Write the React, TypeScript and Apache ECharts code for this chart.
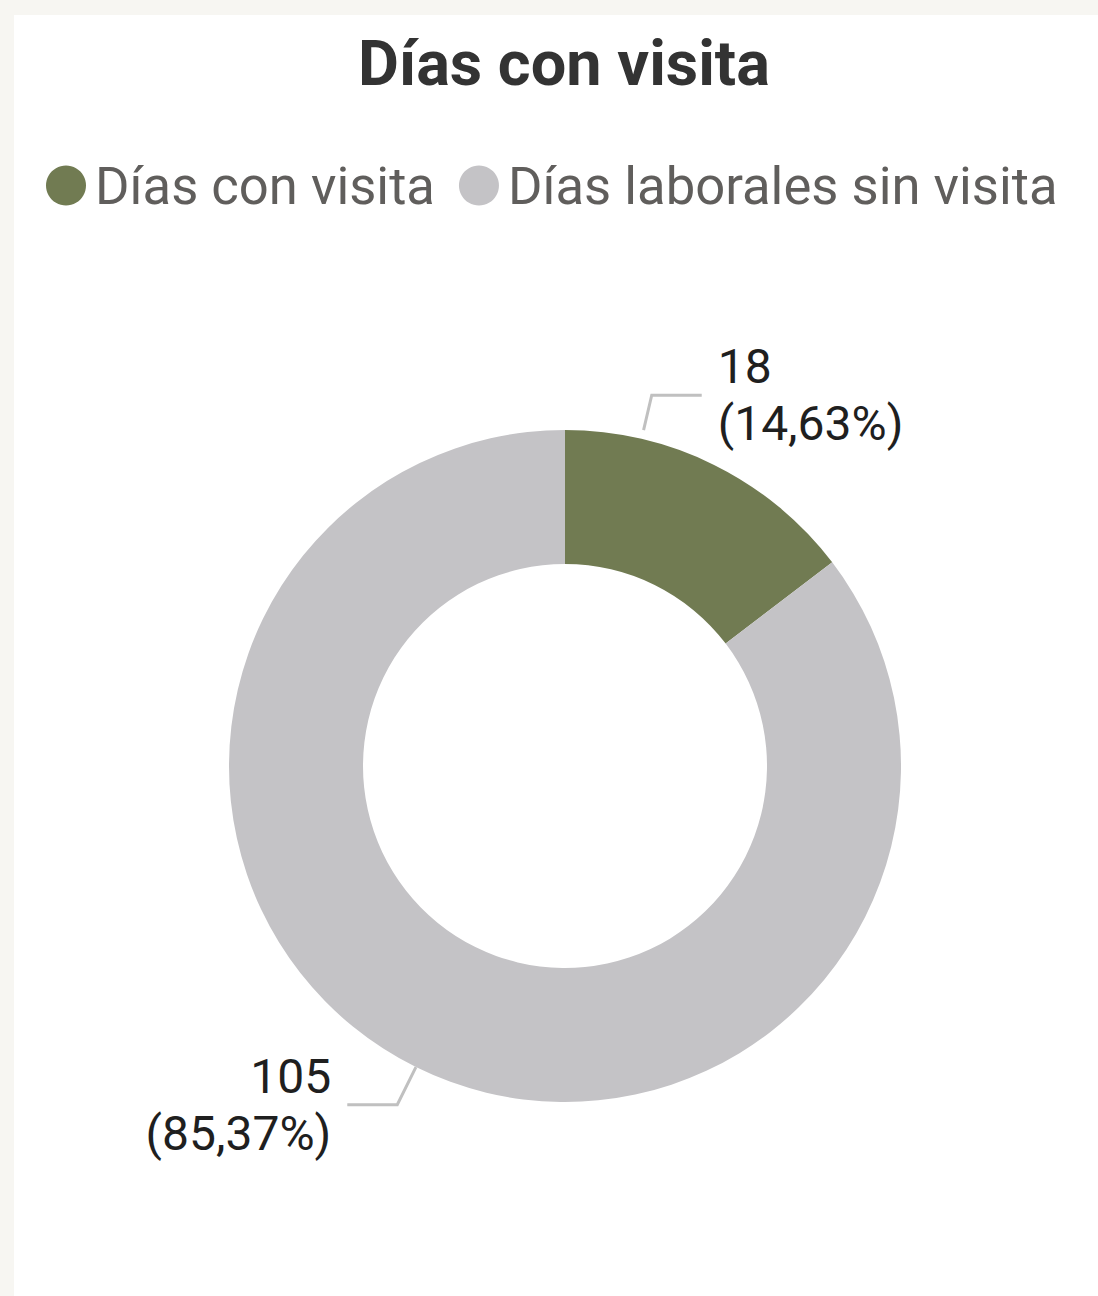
import React, { useEffect, useRef } from "react";
import * as echarts from "echarts";

const TITLE = "Días con visita";
const categories = ["Días con visita", "Días laborales sin visita"];
const values = [18, 105];
const colors = ["#717b52", "#c4c3c6"];

const FONT = "Roboto, 'Noto Sans', sans-serif";
const CX = 565;
const CY = 766;
const R_IN = 202;
const R_OUT = 336;

export default function App() {
  const ref = useRef<HTMLDivElement>(null);

  useEffect(() => {
    document.body.style.margin = "0";
    if (!ref.current) return;
    const chart = echarts.init(ref.current, undefined, { renderer: "svg" });
    chart.setOption({
      animation: false,
      title: {
        text: TITLE,
        left: 353,
        top: 27,
        textStyle: { fontFamily: FONT, fontSize: 63, fontWeight: "bold", color: "#333333" },
      },
      legend: {
        data: categories,
        left: 41,
        top: 154,
        icon: "circle",
        itemWidth: 40,
        itemHeight: 40,
        itemGap: 24,
        textStyle: { fontFamily: FONT, fontSize: 52.6, color: "#605e5c", padding: [0, 0, 0, 4] },
      },
      series: [
        {
          type: "pie",
          center: [CX, CY],
          radius: [R_IN, R_OUT],
          startAngle: 90,
          clockwise: true,
          color: colors,
          emphasis: { disabled: true },
          label: {
            show: true,
            position: "outside",
            fontFamily: FONT,
            fontSize: 48,
            lineHeight: 57,
            color: "#1f1f1f",
            distanceToLabelLine: 16,
            formatter: (p: any) =>
              `${p.value}\n(${Number(p.percent).toFixed(2).replace(".", ",")}%)`,
          },
          labelLine: {
            show: true,
            length: 42,
            length2: 50,
            lineStyle: { color: "#c0c0c0", width: 3 },
          },
          labelLayout: (p: any) => {
            if (p.dataIndex !== 0 || !p.labelLinePoints) return {};
            // move the small slice's label up-left, as in the original report
            const dx = -81;
            const dy = -32;
            const pts = p.labelLinePoints;
            const p1 = [pts[1][0] + dx, pts[1][1] + dy];
            const p2 = [pts[2][0] + dx, pts[2][1] + dy];
            const vx = p1[0] - CX;
            const vy = p1[1] - CY;
            const d = Math.sqrt(vx * vx + vy * vy);
            const k = (R_OUT + 9) / d;
            const p0 = [CX + vx * k, CY + vy * k];
            return {
              x: p.labelRect.x + dx,
              y: p.labelRect.y + p.labelRect.height / 2 + dy,
              labelLinePoints: [p0, p1, p2],
            };
          },
          data: categories.map((name, i) => ({ name, value: values[i] })),
        },
      ],
    });
    return () => chart.dispose();
  }, []);

  return (
    <div style={{ position: "relative", width: 1098, height: 1296, background: "#f7f6f2", overflow: "hidden" }}>
      <div style={{ position: "absolute", left: 14, top: 15, right: 0, bottom: 0, background: "#ffffff" }} />
      <div ref={ref} style={{ position: "absolute", left: 0, top: 0, width: 1098, height: 1296 }} />
    </div>
  );
}
